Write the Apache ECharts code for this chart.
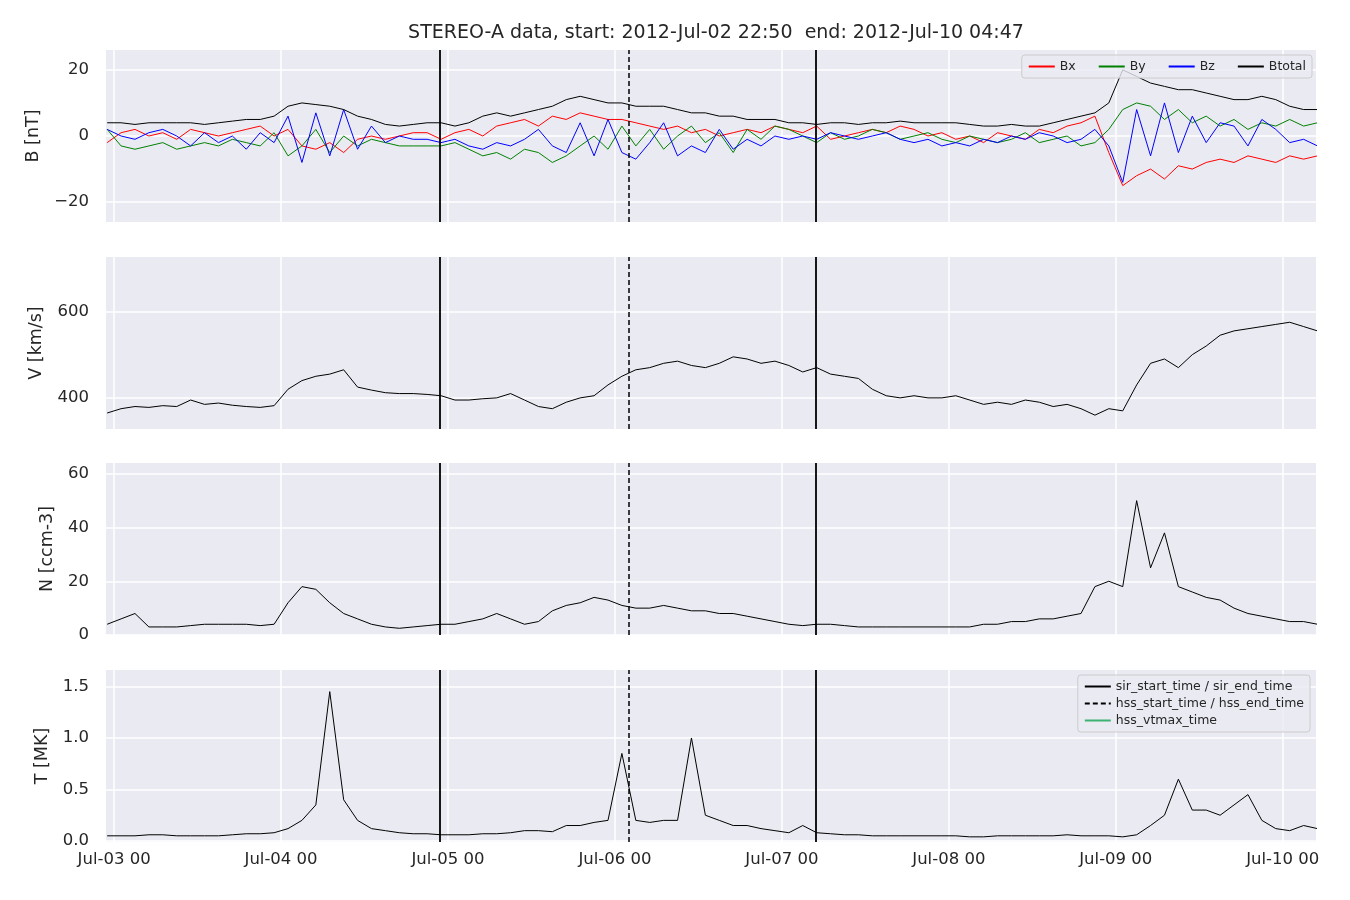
<!DOCTYPE html>
<html><head><meta charset="utf-8">
<script src="https://cdn.jsdelivr.net/npm/echarts@6/dist/echarts.min.js"></script>
<style>html,body{margin:0;padding:0;background:#fff}#c{width:1350px;height:900px}</style>
</head><body><div id="c"></div>
<script>
// 2-hourly samples starting 2012-07-02 23:00 UTC
const startMs = Date.UTC(2012,6,2,23,0);
const stepMs = 2*3600*1000;
const btot = [4,4,3.5,4,4,4,4,3.5,4,4.5,5,5,6, 9,10,9.5,9,8,6,5,3.5,3,3.5,4,4, 3,4,6,7,6,7,8,9,11,12,11,10, 10,9,9,9,8,7,7,6,6,5,5,5, 4,4,3.5,4,4,3.5,4,4,4.5,4,4,4, 4,3.5,3,3,3.5,3,3,4,5,6,7,10, 20,18,16,15,14,14,13,12,11,11,12,11, 9,8,8,8];
const bx = [-2,1,2,0,1,-1,2,1,0,1,2,3,0, 2,-3,-4,-2,-5,-1,0,-1,0,1,1,-1, 1,2,0,3,4,5,3,6,5,7,6,5, 5,4,3,2,3,1,2,0,1,2,1,3, 2,1,3,-1,0,1,2,1,3,2,0,1, -1,0,-2,1,0,-1,2,1,3,4,6,-5, -15,-12,-10,-13,-9,-10,-8,-7,-8,-6,-7,-8, -6,-7,-6,-6];
const by = [2,-3,-4,-3,-2,-4,-3,-2,-3,-1,-2,-3,1, -6,-3,2,-5,0,-3,-1,-2,-3,-3,-3,-3, -2,-4,-6,-5,-7,-4,-5,-8,-6,-3,0,-4, 3,-3,2,-4,0,3,-2,1,-5,2,-1,3, 2,0,-2,1,-1,0,2,1,-1,0,1,-1, -2,0,-1,-2,-1,1,-2,-1,0,-3,-2,2, 8,10,9,5,8,4,6,3,5,2,4,3, 5,3,4,5];
const bz = [2,0,-1,1,2,0,-3,1,-2,0,-4,1,-2, 6,-8,7,-6,8,-4,3,-2,0,-1,-1,-2, -1,-3,-4,-2,-3,-1,2,-3,-5,4,-6,5, -5,-7,-2,4,-6,-3,-5,2,-4,-1,-3,0, -1,0,-1,1,0,-1,0,1,-1,-2,-1,-3, -2,-3,-1,-2,0,-1,1,0,-2,-1,2,-3, -14,8,-6,10,-5,6,-2,4,3,-3,5,2, -2,-1,-3,-2];
const vel = [365,375,380,378,382,380,395,385,388,383,380,378,382, 420,440,450,455,465,425,418,412,410,410,408,405, 395,395,398,400,410,395,380,375,390,400,405,430, 450,465,470,480,485,475,470,480,495,490,480,485, 475,460,470,455,450,445,420,405,400,405,400,400, 405,395,385,390,385,395,390,380,385,375,360,375, 370,430,480,490,470,500,520,545,555,560,565,570, 575,565,555,545];
const dens = [4,6,8,3,3,3,3.5,4,4,4,4,3.5,4, 12,18,17,12,8,6,4,3,2.5,3,3.5,4, 4,5,6,8,6,4,5,9,11,12,14,13, 11,10,10,11,10,9,9,8,8,7,6,5, 4,3.5,4,4,3.5,3,3,3,3,3,3,3, 3,3,4,4,5,5,6,6,7,8,18,20, 18,50,25,38,18,16,14,13,10,8,7,6, 5,5,4,3.5];
const temp = [0.05,0.05,0.05,0.06,0.06,0.05,0.05,0.05,0.05,0.06,0.07,0.07,0.08, 0.12,0.2,0.35,1.45,0.4,0.2,0.12,0.1,0.08,0.07,0.07,0.06, 0.06,0.06,0.07,0.07,0.08,0.1,0.1,0.09,0.15,0.15,0.18,0.2, 0.85,0.2,0.18,0.2,0.2,1.0,0.25,0.2,0.15,0.15,0.12,0.1, 0.08,0.15,0.08,0.07,0.06,0.06,0.05,0.05,0.05,0.05,0.05,0.05, 0.05,0.04,0.04,0.05,0.05,0.05,0.05,0.05,0.06,0.05,0.05,0.05, 0.04,0.06,0.15,0.25,0.6,0.3,0.3,0.25,0.35,0.45,0.2,0.12, 0.1,0.15,0.12,0.1];
const sirTimes = ['2012-07-04T22:50:00Z','2012-07-07T04:55:00Z'];
const hssTimes = ['2012-07-06T02:00:00Z'];
const dayTicks = ['2012-07-03','2012-07-04','2012-07-05','2012-07-06','2012-07-07','2012-07-08','2012-07-09','2012-07-10'];
const yTicks = [[-20,0,20],[400,600],[0,20,40,60],[0,0.5,1.0,1.5]];
const yRange = [[-26,26],[328,726],[0,64],[-0.01,1.66]];
const yNames = ['B [nT]','V [km/s]','N [ccm-3]','T [MK]'];
const xMin = Date.UTC(2012,6,2,22,50), xMax = Date.UTC(2012,6,10,4,47);

const FONT='DejaVu Sans';
const pts = a => a.map((v,i)=>[startMs+i*stepMs, v]);
const dayMs = dayTicks.map(d=>Date.parse(d+'T00:00:00Z'));
const mon = ['Jan','Feb','Mar','Apr','May','Jun','Jul','Aug','Sep','Oct','Nov','Dec'];
const tops=[50,257,463,670];
const gaps=[64,61,50,55];
const grids=tops.map(t=>({left:106,right:34,top:t,height:172,backgroundColor:'#eaeaf2',show:true,borderWidth:0}));
const xAxes=tops.map((t,k)=>({type:'value',gridIndex:k,min:xMin,max:xMax,
  axisLine:{show:false},axisTick:{show:false,customValues:dayMs},
  splitLine:{show:true,lineStyle:{color:'#fff',width:1.5}},
  axisLabel:{show:k===3,customValues:dayMs,color:'#262626',fontSize:16.5,fontFamily:FONT,margin:9,
    formatter:v=>{const d=new Date(v);return mon[d.getUTCMonth()]+'-'+String(d.getUTCDate()).padStart(2,'0')+' 00';}}}));
const yAxes=tops.map((t,k)=>({type:'value',gridIndex:k,min:yRange[k][0],max:yRange[k][1],
  name:yNames[k],nameLocation:'middle',nameGap:gaps[k],nameTextStyle:{fontSize:17.5,color:'#262626',fontFamily:FONT},
  axisLine:{show:false},axisTick:{show:false,customValues:yTicks[k]},
  splitLine:{show:true,lineStyle:{color:'#fff',width:1.5}},
  axisLabel:{customValues:yTicks[k],color:'#262626',fontSize:16.5,fontFamily:FONT,margin:17,
    formatter:v=>(k===3?v.toFixed(1):String(v)).replace('-','\u2212')}}));
const vlines=()=>({symbol:'none',silent:true,label:{show:false},animation:false,
  data:[...sirTimes.map(t=>({xAxis:Date.parse(t),lineStyle:{color:'#000',width:1.8,type:'solid'}})),
        ...hssTimes.map(t=>({xAxis:Date.parse(t),lineStyle:{color:'#000',width:1.5,type:[5,3]}}))]});
const ln=(name,data,k,color,extra)=>Object.assign({name,type:'line',xAxisIndex:k,yAxisIndex:k,data:pts(data),symbol:'none',
  lineStyle:{color,width:1},itemStyle:{color},animation:false},extra||{});
const series=[
  ln('Bx',bx,0,'#ff0000'),ln('By',by,0,'#008000'),ln('Bz',bz,0,'#0000ff'),ln('Btotal',btot,0,'#000',{markLine:vlines()}),
  ln('V',vel,1,'#000',{markLine:vlines()}),
  ln('N',dens,2,'#000',{markLine:vlines()}),
  ln('T',temp,3,'#000',{markLine:vlines()}),
  {name:'sir_start_time / sir_end_time',type:'line',xAxisIndex:3,yAxisIndex:3,data:[],symbol:'none',lineStyle:{color:'#000',width:1.5},itemStyle:{color:'#000'}},
  {name:'hss_start_time / hss_end_time',type:'line',xAxisIndex:3,yAxisIndex:3,data:[],symbol:'none',lineStyle:{color:'#000',width:1.5,type:[5,3]},itemStyle:{color:'#000'}},
  {name:'hss_vtmax_time',type:'line',xAxisIndex:3,yAxisIndex:3,data:[],symbol:'none',lineStyle:{color:'#3cb371',width:2.5},itemStyle:{color:'#3cb371'}}
];
const lgBase={itemWidth:26,itemHeight:8,itemStyle:{opacity:0},
  backgroundColor:'rgba(234,234,242,0.8)',borderColor:'#ccc',borderWidth:1,borderRadius:3,padding:[5,6],
  textStyle:{fontSize:12.5,color:'#262626',fontFamily:FONT}};
const chart=echarts.init(document.getElementById('c'));
chart.setOption({backgroundColor:'#fff',animation:false,
  title:{text:'STEREO-A data, start: 2012-Jul-02 22:50  end: 2012-Jul-10 04:47',left:711,textAlign:'center',top:19,
    textStyle:{fontSize:19,fontWeight:'normal',color:'#262626',fontFamily:FONT}},
  grid:grids,xAxis:xAxes,yAxis:yAxes,series,
  legend:[
    Object.assign({data:['Bx','By','Bz','Btotal'],right:38,top:55,orient:'horizontal',itemGap:22},lgBase),
    Object.assign({data:['sir_start_time / sir_end_time','hss_start_time / hss_end_time','hss_vtmax_time'],right:40,top:675,orient:'vertical',itemGap:4},lgBase)
  ]});
</script></body></html>
